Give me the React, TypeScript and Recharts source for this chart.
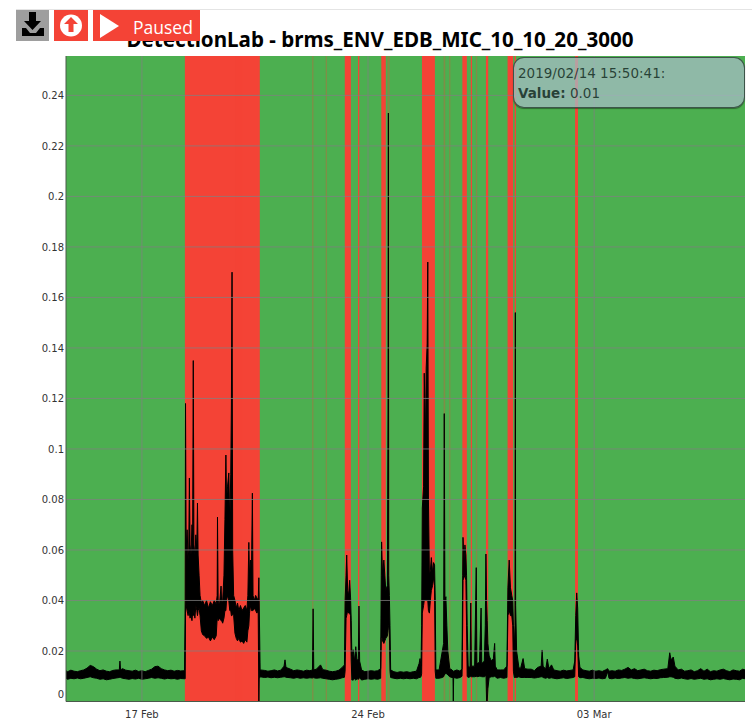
import React from 'react'
import {
  ComposedChart, Area, XAxis, YAxis, ReferenceArea, ReferenceLine,
} from 'recharts'

// x values are days counted from 1 Feb 2019 (so 03 Mar is day 31)
const quietDays = [14.65, 14.7, 14.8, 14.9, 15.0, 15.1, 15.2, 15.3, 15.4, 15.5, 15.6, 15.7, 15.8, 15.9, 16.0, 16.1, 16.2, 16.3, 16.32, 16.34, 16.4, 16.5, 16.6, 16.7, 16.8, 16.9, 17.0, 17.1, 17.2, 17.3, 17.4, 17.5, 17.6, 17.7, 17.8, 17.9, 18.0, 18.1, 18.2, 18.32]
const quietHigh = [0.0122, 0.0118, 0.0124, 0.012, 0.0118, 0.0122, 0.0125, 0.0132, 0.0143, 0.0138, 0.0128, 0.0122, 0.0125, 0.012, 0.0118, 0.0123, 0.0125, 0.0125, 0.016, 0.0125, 0.013, 0.0124, 0.0122, 0.012, 0.0124, 0.0119, 0.0122, 0.0118, 0.0123, 0.0128, 0.0138, 0.014, 0.013, 0.0125, 0.0122, 0.0124, 0.012, 0.0123, 0.0121, 0.0122]
const quietLow = [0.0092, 0.0088, 0.0092, 0.009, 0.0093, 0.009, 0.0092, 0.0095, 0.0098, 0.0094, 0.0092, 0.0088, 0.009, 0.0086, 0.0088, 0.0091, 0.0093, 0.0095, 0.0095, 0.0095, 0.0092, 0.009, 0.0088, 0.0091, 0.0089, 0.0092, 0.0088, 0.009, 0.0092, 0.0095, 0.0092, 0.0094, 0.0092, 0.0089, 0.0092, 0.009, 0.0091, 0.0088, 0.0091, 0.009]

const bigAlarmDays = [18.34, 18.35, 18.37, 18.4, 18.43, 18.45, 18.47, 18.49, 18.52, 18.55, 18.57, 18.59, 18.61, 18.64, 18.67, 18.7, 18.72, 18.74, 18.77, 18.8, 18.84, 18.88, 18.94, 19.0, 19.06, 19.12, 19.18, 19.24, 19.3, 19.33, 19.34, 19.36, 19.4, 19.45, 19.47, 19.5, 19.54, 19.57, 19.6, 19.62, 19.65, 19.69, 19.72, 19.75, 19.77, 19.79, 19.81, 19.84, 19.88, 19.92, 19.96, 20.0, 20.05, 20.1, 20.15, 20.2, 20.25, 20.28, 20.31, 20.33, 20.36, 20.39, 20.42, 20.44, 20.48, 20.52, 20.56, 20.6, 20.62, 20.63]
const bigAlarmHigh = [0.04, 0.118, 0.06, 0.068, 0.056, 0.06, 0.0885, 0.062, 0.058, 0.07, 0.065, 0.135, 0.062, 0.058, 0.066, 0.06, 0.0786, 0.058, 0.05, 0.042, 0.039, 0.04, 0.038, 0.04, 0.037, 0.0395, 0.038, 0.04, 0.0385, 0.042, 0.073, 0.04, 0.038, 0.0457, 0.039, 0.04, 0.05, 0.072, 0.0976, 0.08, 0.085, 0.0905, 0.07, 0.09, 0.117, 0.17, 0.06, 0.042, 0.04, 0.037, 0.039, 0.036, 0.038, 0.036, 0.037, 0.038, 0.036, 0.042, 0.063, 0.05, 0.056, 0.05, 0.0825, 0.042, 0.04, 0.042, 0.041, 0.04, 0.049, 0.04]
const bigAlarmLow = [0.009, 0.035, 0.038, 0.036, 0.034, 0.036, 0.035, 0.033, 0.034, 0.032, 0.035, 0.034, 0.036, 0.033, 0.038, 0.036, 0.034, 0.036, 0.037, 0.034, 0.028, 0.0265, 0.026, 0.025, 0.0255, 0.024, 0.0255, 0.0245, 0.026, 0.033, 0.033, 0.032, 0.033, 0.032, 0.032, 0.031, 0.033, 0.036, 0.036, 0.04, 0.042, 0.04, 0.036, 0.036, 0.034, 0.034, 0.035, 0.034, 0.027, 0.025, 0.024, 0.025, 0.0235, 0.024, 0.023, 0.0245, 0.0235, 0.028, 0.03, 0.035, 0.038, 0.036, 0.036, 0.036, 0.037, 0.036, 0.035, 0.036, 0, 0.009]

const midDays = [20.66, 20.8, 20.9, 21.0, 21.1, 21.2, 21.3, 21.4, 21.43, 21.46, 21.6, 21.7, 21.8, 21.9, 22.0, 22.1, 22.2, 22.28, 22.3, 22.32, 22.4, 22.53, 22.6, 22.7, 22.8, 22.9, 23.0, 23.1, 23.2, 23.27]
const midHigh = [0.0125, 0.0123, 0.012, 0.0122, 0.0125, 0.0121, 0.0124, 0.014, 0.0165, 0.0135, 0.0128, 0.0122, 0.0125, 0.0123, 0.012, 0.0124, 0.0122, 0.0125, 0.0367, 0.0125, 0.0128, 0.0145, 0.0126, 0.0124, 0.012, 0.0118, 0.012, 0.0124, 0.0135, 0.0145]
const midLow = [0.0098, 0.0095, 0.0097, 0.0094, 0.0096, 0.0094, 0.0096, 0.0098, 0.0098, 0.0096, 0.0094, 0.0092, 0.0095, 0.0092, 0.0094, 0.0092, 0.0094, 0.0093, 0.0095, 0.0094, 0.0092, 0.0094, 0.0092, 0.009, 0.0088, 0.0086, 0.0088, 0.009, 0.0094, 0.0096]

const lateFebDays = [23.29, 23.32, 23.34, 23.37, 23.4, 23.43, 23.46, 23.48, 23.5, 23.54, 23.58, 23.62, 23.66, 23.7, 23.72, 23.74, 23.8, 23.9, 24.0, 24.1, 24.2, 24.3, 24.39, 24.41, 24.42, 24.45, 24.49, 24.52, 24.55, 24.6, 24.62, 24.63, 24.64, 24.66, 24.68, 24.7, 24.8, 24.9, 25.0, 25.1, 25.2, 25.3, 25.4, 25.5, 25.58, 25.61, 25.64]
const lateFebHigh = [0.04, 0.05, 0.058, 0.044, 0.042, 0.048, 0.041, 0.032, 0.018, 0.0205, 0.016, 0.0217, 0.016, 0.017, 0.0378, 0.016, 0.0125, 0.0118, 0.012, 0.0122, 0.012, 0.0122, 0.013, 0.05, 0.0632, 0.05, 0.056, 0.05, 0.044, 0.046, 0.12, 0.233, 0.05, 0.042, 0.03, 0.0125, 0.0118, 0.0115, 0.0118, 0.0116, 0.0118, 0.0115, 0.0118, 0.012, 0.015, 0.017, 0.014]
const lateFebLow = [0.012, 0.033, 0.034, 0.036, 0.035, 0.035, 0.034, 0.016, 0.0085, 0.0085, 0.009, 0.0085, 0.009, 0.0088, 0.009, 0.0095, 0.0085, 0.0088, 0.009, 0.0088, 0.009, 0.0088, 0.0092, 0.025, 0.026, 0.024, 0.023, 0.024, 0.025, 0.026, 0.028, 0.03, 0.03, 0.028, 0.012, 0.0095, 0.0092, 0.009, 0.0092, 0.009, 0.0092, 0.009, 0.0092, 0.009, 0.0095, 0.0095, 0.0098]

const clusterDays = [25.66, 25.68, 25.72, 25.74, 25.78, 25.8, 25.83, 25.85, 25.87, 25.9, 25.93, 25.96, 26.0, 26.03, 26.06, 26.08, 26.1, 26.2, 26.3, 26.34, 26.36, 26.38, 26.41, 26.44, 26.47, 26.53, 26.6, 26.63, 26.64, 26.65, 26.75, 26.85, 26.91, 26.93, 26.94, 26.97, 27.0, 27.03, 27.05, 27.07, 27.1, 27.16, 27.18, 27.2, 27.3, 27.35, 27.37, 27.45, 27.5, 27.52, 27.6, 27.63, 27.65, 27.67, 27.69, 27.71, 27.75, 27.82, 27.88, 27.92, 27.94, 28.0, 28.1, 28.2, 28.3, 28.33, 28.37, 28.41, 28.45, 28.48, 28.5, 28.53, 28.55, 28.56, 28.57, 28.6, 28.67, 28.72, 28.8, 28.85, 28.95]
const clusterHigh = [0.03, 0.0766, 0.085, 0.13, 0.105, 0.132, 0.1416, 0.174, 0.08, 0.05, 0.052, 0.057, 0.051, 0.055, 0.054, 0.04, 0.0125, 0.0125, 0.02, 0.023, 0.114, 0.04, 0.0415, 0.03, 0.02, 0.013, 0.0125, 0.012, 0.012, 0.012, 0.0125, 0.012, 0.013, 0.05, 0.065, 0.056, 0.062, 0.058, 0.05, 0.03, 0.014, 0.0135, 0.039, 0.014, 0.014, 0.053, 0.015, 0.0155, 0.037, 0.015, 0.016, 0.03, 0.0584, 0.04, 0.032, 0.023, 0.018, 0.016, 0.017, 0.023, 0.014, 0.0125, 0.0125, 0.0125, 0.014, 0.045, 0.056, 0.045, 0.042, 0.04, 0.03, 0.022, 0.03, 0.154, 0.038, 0.02, 0.0135, 0.013, 0.017, 0.013, 0.0128]
const clusterLow = [0.011, 0.035, 0.038, 0.04, 0.04, 0.04, 0.04, 0.04, 0.036, 0.035, 0.04, 0.044, 0.046, 0.049, 0.046, 0.012, 0.0092, 0.0092, 0.0095, 0.0098, 0.0105, 0.011, 0.011, 0.011, 0.0105, 0.0098, 0.0095, 0.0095, 0, 0.0095, 0.0092, 0.0095, 0.01, 0.03, 0.048, 0.049, 0.05, 0.048, 0.03, 0.01, 0.0095, 0.0098, 0.01, 0.0098, 0.0098, 0.01, 0.0098, 0.01, 0.01, 0.0098, 0.0098, 0.01, 0.012, 0, 0, 0.005, 0.0095, 0.0098, 0.0098, 0.01, 0.0098, 0.0092, 0.0095, 0.0092, 0.0095, 0.034, 0.036, 0.034, 0.034, 0.03, 0.012, 0.0095, 0.0095, 0.0095, 0.0095, 0.0095, 0.0098, 0.0095, 0.0095, 0.0095, 0.0095]

const marchDays = [29.05, 29.15, 29.25, 29.36, 29.39, 29.42, 29.5, 29.55, 29.6, 29.68, 29.75, 29.85, 29.95, 30.05, 30.15, 30.25, 30.35, 30.4, 30.43, 30.46, 30.49, 30.52, 30.56, 30.65, 30.75, 30.85, 30.95, 31.05, 31.15, 31.25, 31.35, 31.42, 31.46, 31.55, 31.65, 31.75, 31.85, 31.95, 32.05, 32.15, 32.25, 32.35, 32.45, 32.55, 32.65, 32.75, 32.85, 32.95, 33.05, 33.15, 33.28, 33.34, 33.38, 33.45, 33.5, 33.6, 33.7, 33.8, 33.9, 34.0, 34.1, 34.2, 34.3, 34.4, 34.5, 34.6, 34.7, 34.8, 34.9, 35.0, 35.1, 35.2, 35.3, 35.4, 35.5, 35.6, 35.67]
const marchHigh = [0.0128, 0.0122, 0.0135, 0.014, 0.0204, 0.014, 0.0128, 0.0168, 0.013, 0.0145, 0.0125, 0.0122, 0.012, 0.0124, 0.0121, 0.0123, 0.0125, 0.016, 0.034, 0.043, 0.037, 0.018, 0.0135, 0.0125, 0.0122, 0.012, 0.0124, 0.012, 0.0122, 0.0119, 0.0125, 0.013, 0.012, 0.0122, 0.012, 0.0125, 0.0123, 0.0128, 0.0135, 0.0125, 0.013, 0.0122, 0.0125, 0.0128, 0.0122, 0.012, 0.0124, 0.0122, 0.0126, 0.0128, 0.013, 0.0193, 0.0165, 0.0176, 0.014, 0.0125, 0.0128, 0.012, 0.0122, 0.0125, 0.0118, 0.0122, 0.013, 0.012, 0.0128, 0.0118, 0.0122, 0.012, 0.0125, 0.0128, 0.0122, 0.0118, 0.0125, 0.0122, 0.012, 0.0128, 0.0125]
const marchLow = [0.0095, 0.0093, 0.0095, 0.0098, 0.0098, 0.0095, 0.0092, 0.0095, 0.0092, 0.0094, 0.0092, 0.009, 0.0092, 0.0094, 0.0091, 0.0093, 0.0095, 0.0098, 0.024, 0.025, 0.022, 0.0098, 0.0094, 0.0095, 0.0092, 0.009, 0.0092, 0.0091, 0.0093, 0.009, 0.0092, 0.0118, 0.0092, 0.009, 0.0093, 0.0091, 0.0093, 0.0095, 0.0092, 0.0094, 0.0091, 0.009, 0.0092, 0.0094, 0.0092, 0.009, 0.0092, 0.0091, 0.0094, 0.0095, 0.0096, 0.0098, 0.0098, 0.0096, 0.0092, 0.009, 0.0093, 0.009, 0.0088, 0.0091, 0.0088, 0.009, 0.0092, 0.0088, 0.009, 0.0086, 0.0088, 0.009, 0.0088, 0.0091, 0.0088, 0.0086, 0.0089, 0.0088, 0.0086, 0.0092, 0.009]

const days = [...quietDays, ...bigAlarmDays, ...midDays, ...lateFebDays, ...clusterDays, ...marchDays]
const highs = [...quietHigh, ...bigAlarmHigh, ...midHigh, ...lateFebHigh, ...clusterHigh, ...marchHigh]
const lows = [...quietLow, ...bigAlarmLow, ...midLow, ...lateFebLow, ...clusterLow, ...marchLow]
const data = days.map((day, i) => ({ day, range: [lows[i], highs[i]] }))

// anomaly spans (start, end) in days
const alarmStarts = [18.33, 23.28, 23.69, 24.41, 25.67, 26.92, 27.18, 27.65, 28.32, 28.54, 30.41]
const alarmEnds = [20.65, 23.47, 23.73, 24.55, 26.07, 27.06, 27.22, 27.72, 28.49, 28.58, 30.5]
const faintStarts = [22.27, 22.69, 24.6, 26.34, 26.51, 27.34, 19.9]
const faintEnds = [22.31, 22.73, 24.67, 26.39, 26.55, 27.38, 20.1]

const xTicks = [17, 24, 31]
const xTickLabels = ['17 Feb', '24 Feb', '03 Mar']
const yTicks = [0, 0.02, 0.04, 0.06, 0.08, 0.1, 0.12, 0.14, 0.16, 0.18, 0.2, 0.22, 0.24]

const GREEN = '#4CAF50'
const RED = '#F44336'
const FONT = '"DejaVu Sans", sans-serif'

const YTick = (props: any) => {
  const { x, y, payload } = props
  return (
    <text x={x} y={payload.value === 0 ? y - 8 : y} dy={4} textAnchor="end" fontSize={10} fontFamily={FONT} fill="#333">
      {payload.value}
    </text>
  )
}

const Toolbar = () => (
  <>
    <div style={{ position: 'absolute', left: 16, top: 9, right: 0, height: 1, background: '#e4e4e4' }} />
    <div style={{ position: 'absolute', left: 16, top: 10, width: 33, height: 31, background: '#9e9e9e', zIndex: 2 }}>
      <svg width={33} height={31}>
        <path d="M13 2h7v9h5l-8.5 9L8 11h5z" fill="#000" />
        <path d="M6 18h4l4 5h6l4-5h4v8H6z" fill="#000" />
      </svg>
    </div>
    <div style={{ position: 'absolute', left: 54, top: 10, width: 34, height: 31, background: RED, zIndex: 2 }}>
      <svg width={34} height={31}>
        <circle cx={17} cy={15.5} r={11} fill="#fff" />
        <path d="M17 7l7 7h-4.5v8h-5v-8H10z" fill={RED} />
      </svg>
    </div>
    <div style={{ position: 'absolute', left: 93, top: 10, width: 107, height: 31, background: RED, zIndex: 2 }}>
      <svg width={34} height={31} style={{ position: 'absolute', left: 0, top: 0 }}>
        <path d="M7 4l19 12L7 28z" fill="#fff" />
      </svg>
      <span style={{ position: 'absolute', left: 40, top: 5, color: '#fff', fontFamily: '"Open Sans", sans-serif', fontSize: 17.5, lineHeight: '24px' }}>
        Paused
      </span>
    </div>
  </>
)

export default function App() {
  return (
    <div style={{ position: 'absolute', left: 0, top: 0, width: 752, height: 720, background: '#fff', overflow: 'hidden' }}>
      <Toolbar />
      <div style={{ position: 'absolute', left: 0, width: 760, top: 26, textAlign: 'center', fontFamily: '"Noto Sans", sans-serif', fontWeight: 700, fontSize: 20.6, lineHeight: '26px', color: '#000', whiteSpace: 'nowrap' }}>
        DetectionLab - brms_ENV_EDB_MIC_10_10_20_3000
      </div>
      <div style={{ position: 'absolute', left: 0, top: 0 }}>
        <ComposedChart width={752} height={720} data={data} margin={{ top: 56, right: 7, left: 0, bottom: 0 }}>
          <XAxis
            dataKey="day"
            type="number"
            domain={[14.65, 35.67]}
            ticks={xTicks}
            tickFormatter={(v: number) => xTickLabels[xTicks.indexOf(v)]}
            height={18.5}
            tickSize={0}
            tickMargin={9}
            tick={{ fontSize: 10, fontFamily: FONT, fill: '#333' }}
            axisLine={{ stroke: '#4a5a4a' }}
          />
          <YAxis
            type="number"
            domain={[0, 0.2556]}
            ticks={yTicks}
            width={66}
            tickSize={0}
            tick={<YTick />}
            interval={0}
            axisLine={{ stroke: '#4a5a4a' }}
          />
          <ReferenceArea x1={14.65} x2={35.67} fill={GREEN} fillOpacity={1} stroke="none" />
          {alarmStarts.map((start, i) => (
            <ReferenceArea key={start} x1={start} x2={alarmEnds[i]} fill={RED} fillOpacity={1} stroke="none" />
          ))}
          {faintStarts.map((start, i) => (
            <ReferenceArea key={start} x1={start} x2={faintEnds[i]} fill={RED} fillOpacity={0.3} stroke="none" />
          ))}
          {yTicks.slice(1).map((v) => (
            <ReferenceLine key={v} y={v} stroke="#808080" strokeOpacity={0.75} />
          ))}
          {xTicks.map((v) => (
            <ReferenceLine key={v} x={v} stroke="#808080" strokeOpacity={0.75} />
          ))}
          <Area
            dataKey="range"
            type="linear"
            stroke="#000"
            strokeWidth={1}
            fill="#000"
            fillOpacity={1}
            dot={false}
            activeDot={false}
            isAnimationActive={false}
          />
        </ComposedChart>
      </div>
      <div style={{ position: 'absolute', left: 513, top: 57, width: 230, height: 49, borderRadius: 11, border: '1px solid rgba(40,60,50,0.8)', boxShadow: '0 1px 1px rgba(0,0,0,0.4)', background: 'rgba(165,188,196,0.75)', color: 'rgba(20,45,35,0.85)', fontFamily: FONT, fontSize: 13.5, lineHeight: '20px', padding: '0', }}>
        <div style={{ position: 'absolute', left: 4, top: 5, whiteSpace: 'nowrap' }}>2019/02/14 15:50:41:</div>
        <div style={{ position: 'absolute', left: 4, top: 25, whiteSpace: 'nowrap' }}><b>Value:</b> 0.01</div>
      </div>
    </div>
  )
}
